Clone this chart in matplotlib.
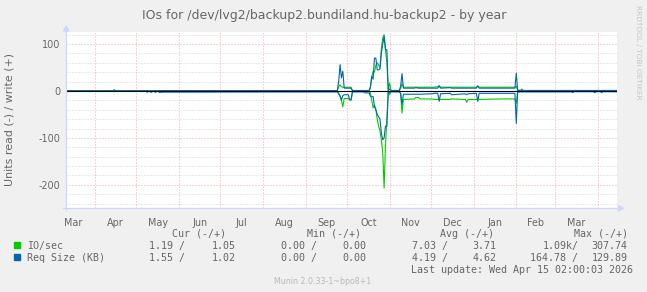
import datetime as dt
import numpy as np
import matplotlib
matplotlib.use("Agg")
import matplotlib.pyplot as plt
import matplotlib.dates as mdates
import matplotlib.transforms as mtransforms
from matplotlib.patches import Polygon, Rectangle
from matplotlib.lines import Line2D

# ---------------- data ----------------
title = "IOs for /dev/lvg2/backup2.bundiland.hu-backup2 - by year"
ylabel = "Units read (-) / write (+)"

dates = [
    "2025-03-11", "2025-04-14", "2025-04-15", "2025-04-16", "2025-05-08",
    "2025-05-09", "2025-05-10", "2025-05-12", "2025-05-13", "2025-05-15",
    "2025-05-16", "2025-05-18", "2025-05-20", "2025-09-24",
    "2025-09-25", "2025-09-26", "2025-09-27", "2025-09-28", "2025-09-29",
    "2025-10-02", "2025-10-03", "2025-10-04", "2025-10-05", "2025-10-13",
    "2025-10-14", "2025-10-17", "2025-10-18", "2025-10-19", "2025-10-20",
    "2025-10-21", "2025-10-22", "2025-10-23", "2025-10-24", "2025-10-25",
    "2025-10-26", "2025-10-27", "2025-10-28", "2025-10-29", "2025-10-30",
    "2025-10-31", "2025-11-01", "2025-11-02", "2025-11-08", "2025-11-09",
    "2025-11-10", "2025-11-11", "2025-11-12", "2025-11-19", "2025-11-20",
    "2025-11-22", "2025-11-23", "2025-12-02", "2025-12-03", "2025-12-06",
    "2025-12-07", "2025-12-08", "2025-12-15", "2025-12-16", "2025-12-26",
    "2025-12-27", "2025-12-28", "2026-01-03", "2026-01-04", "2026-01-05",
    "2026-01-20", "2026-01-31", "2026-02-01", "2026-02-02", "2026-02-04",
    "2026-02-05", "2026-02-06", "2026-03-13", "2026-03-14", "2026-03-15",
    "2026-03-29", "2026-03-30", "2026-03-31", "2026-04-03", "2026-04-04",
    "2026-04-05", "2026-04-15",
]
io_write = [
    0.1, 0.1, 3.0, 0.1, 0.2,
    0.2, 0.2, 0.2, 0.2, 0.2,
    0.2, 0.2, 0.3, 0.3,
    9, 13, 9, 8, 8,
    8, 8, 8, 0.5, 0.5,
    0.5, 0.5, 5, 30, 42,
    40, 55, 60, 55, 50,
    90, 113, 120, 88, 60,
    1, 17, 1, 1, 5,
    15, 8, 8, 8, 8,
    8, 8, 8, 8, 9,
    11, 8, 8, 8, 8,
    8, 8, 8, 10, 8,
    8, 8, 10, 2, 1,
    4, 1, 1, 1, 1,
    1, 1, 1, 1, 1,
    1, 1.05,
]
io_read = [
    0.1, 0.1, 0.1, 0.1, 0.2,
    0.2, 0.2, 0.2, 0.2, 0.2,
    0.2, 0.2, 0.3, 0.3,
    5, 12, 20, 34, 16,
    16, 19, 19, 1, 1,
    1, 1, 4, 20, 36,
    30, 40, 60, 75, 85,
    104, 132, 207, 115, 60,
    1, 8, 1, 1, 5,
    47, 18, 18, 17, 14,
    14, 17, 17, 18, 18,
    19, 18, 18, 17, 18,
    24, 18, 18, 19, 18,
    17, 17, 26, 2, 1,
    1, 1, 1, 1, 1,
    1, 1, 1, 1, 1,
    1, 1.19,
]
req_write = [
    0, 0, 0, 0, 0.2,
    0.5, 0.2, 0.5, 0.2, 0.5,
    0.2, 0.5, 0.8, 0.8,
    20, 56, 28, 42, 6,
    6, 6, 6, 1, 1,
    1, 1, 8, 31, 25,
    70, 70, 45, 45, 47,
    81, 100, 116, 88, 88,
    1, 4, 1, 1, 10,
    37, 6, 6, 6, 7,
    6, 6, 6, 6, 6,
    11, 6, 7, 6, 6,
    6, 6, 6, 11, 6,
    6, 6, 38, 1, 1,
    1, 1, 1, 1, 1,
    1, 1, 1, 1, 1,
    1, 1.02,
]
req_read = [
    0, 0, 0, 0, 0.2,
    3, 0.2, 3, 0.2, 3,
    0.2, 3, 2.5, 2,
    6, 10, 19, 10, 8,
    8, 19, 19, 2, 2,
    4, 4, 11, 12, 12,
    33, 40, 50, 55, 60,
    90, 104, 100, 75, 75,
    2, 3, 2, 2, 5,
    29, 7, 7, 7, 7,
    7, 7, 6, 5, 5,
    22, 6, 5, 8, 6,
    8, 6, 5, 22, 5,
    5, 5, 69, 2, 2,
    2, 2, 2, 3.5, 1.5,
    1.5, 3.5, 1.5, 1.5, 3.5,
    1.5, 1.55,
]

yticks = [100, 0, -100, -200]
ytick_labels = ["100", "0", "-100", "-200"]
month_labels = ["Mar", "Apr", "May", "Jun", "Jul", "Aug", "Sep", "Oct",
                "Nov", "Dec", "Jan", "Feb", "Mar"]

series_names = ["IO/sec", "Req Size (KB)"]
series_colors = ["#00CC00", "#0066B3"]
stat_headers = ["Cur (-/+)", "Min (-/+)", "Avg (-/+)", "Max (-/+)"]
io_read_stats = ["1.19", "0.00", "7.03", "1.09k"]
io_write_stats = ["1.05", "0.00", "3.71", "307.74"]
req_read_stats = ["1.55", "0.00", "4.19", "164.78"]
req_write_stats = ["1.02", "0.00", "4.62", "129.89"]
last_update = "Last update: Wed Apr 15 02:00:03 2026"
footer = "Munin 2.0.33-1~bpo8+1"
watermark = "RRDTOOL / TOBI OETIKER"

# ---------------- layout ----------------
W, H = 647, 292
FONT = "#666666"
fig = plt.figure(figsize=(W / 100, H / 100), dpi=100, facecolor="#F0F0F0")


def fx(x):
    return x / W


def fy(y):
    return 1 - y / H


L, R, T, B = 66.2, 616.9, 32.3, 208.3
ax = fig.add_axes([fx(L), fy(B), (R - L) / W, (B - T) / H])
ax.set_facecolor("white")
for s in ax.spines.values():
    s.set_visible(False)

end = dt.datetime(2026, 4, 15, 2, 0, 3)
start = end - dt.timedelta(days=400)
xs = [mdates.date2num(dt.datetime.strptime(d, "%Y-%m-%d")) for d in dates]
ax.set_xlim(mdates.date2num(start), mdates.date2num(end))
ax.set_ylim(-250, 125)
ax.set_xticks([])
ax.set_yticks([])

# grid
minor_c = "#d4d4d4"
major_c = "#f0a8a8"
dots = (0, (1, 2))
for v in range(-240, 125, 20):
    if v % 100 == 0:
        continue
    ax.axhline(v, color=minor_c, lw=0.72, ls=dots, zorder=0.5)
for v in yticks:
    if v != 0:
        ax.axhline(v, color=major_c, lw=0.72, ls=dots, zorder=0.6)

month_starts = []
y0, m0 = start.year, start.month
while True:
    d = dt.datetime(y0, m0, 1)
    if d > end:
        break
    month_starts.append(d)
    m0 += 1
    if m0 > 12:
        m0, y0 = 1, y0 + 1
for d in month_starts:
    if start < d < end:
        ax.axvline(mdates.date2num(d), color=major_c, lw=0.72, ls=dots, zorder=0.6)

# data
lw = 0.8
ax.plot(xs, io_write, color=series_colors[0], lw=lw, zorder=2)
ax.plot(xs, -np.array(io_read), color=series_colors[0], lw=lw, zorder=2)
ax.plot(xs, req_write, color=series_colors[1], lw=lw, zorder=3)
ax.plot(xs, -np.array(req_read), color=series_colors[1], lw=lw, zorder=3)
ax.axhline(0, color="black", lw=0.8, zorder=4)

# axes lines + arrows
axc = "#CFD6F8"
fig.add_artist(Line2D([fx(L), fx(L)], [fy(B + 2), fy(30)], color=axc, lw=0.9))
fig.add_artist(Line2D([fx(L - 3), fx(619)], [fy(B), fy(B)], color=axc, lw=0.9))
fig.add_artist(Polygon([[fx(L - 2.7), fy(31)], [fx(L + 2.7), fy(31)], [fx(L), fy(26.3)]],
                       closed=True, color=axc, transform=fig.transFigure))
fig.add_artist(Polygon([[fx(618.5), fy(B - 2.7)], [fx(618.5), fy(B + 2.7)], [fx(623.5), fy(B)]],
                       closed=True, color=axc, transform=fig.transFigure))

# tick labels
ty = mtransforms.blended_transform_factory(fig.transFigure, ax.transData)
for v, lab in zip(yticks, ytick_labels):
    fig.text(fx(60.5), v, lab, transform=ty, ha="right", va="center_baseline",
             fontsize=6.9, color=FONT, family="DejaVu Sans")

tx = mtransforms.blended_transform_factory(ax.transData, fig.transFigure)
for i, lab in enumerate(month_labels):
    a = month_starts[i]
    b = month_starts[i + 1] if i + 1 < len(month_starts) else end
    mid = mdates.date2num(a + (b - a) / 2)
    fig.text(mid, fy(226), lab, transform=tx, ha="center", va="baseline",
             fontsize=6.9, color=FONT, family="DejaVu Sans")

# title, labels
fig.text(fx(323.8), fy(18.7), title, ha="center", va="baseline", fontsize=9,
         color=FONT, family="DejaVu Sans")
fig.text(fx(10), fy(120), ylabel, rotation=90, ha="center", va="center",
         fontsize=7.9, color=FONT, family="DejaVu Sans")
fig.text(fx(638.3), fy(52), watermark, rotation=270, ha="center", va="center",
         fontsize=5.3, color="#c4c4c4", family="DejaVu Sans")

# legend
mono = "DejaVu Sans Mono"
lfs = 7.2
header_x = [172.3, 306.7, 440.0, 574.0]
for h, xx in zip(stat_headers, header_x):
    fig.text(fx(xx), fy(236.7), h, ha="left", va="baseline", fontsize=lfs,
             color=FONT, family=mono)

read_right = [185.0, 316.7, 447.7, 578.3]
write_right = [235.3, 366.7, 496.7, 627.7]
rows = [(io_read_stats, io_write_stats, 249.0, 242.3),
        (req_read_stats, req_write_stats, 261.0, 254.3)]
for k, (rs, ws, base, sq) in enumerate(rows):
    fig.add_artist(Rectangle((fx(14), fy(sq + 5.5)), 5.5 / W, 5.5 / H,
                             transform=fig.transFigure, color=series_colors[k]))
    fig.text(fx(26.7), fy(base), series_names[k], ha="left", va="baseline",
             fontsize=lfs, color=FONT, family=mono)
    for j in range(4):
        r = rs[j] + ("/" if rs[j].endswith("k") else " /")
        fig.text(fx(read_right[j]), fy(base), r, ha="right", va="baseline",
                 fontsize=lfs, color=FONT, family=mono)
        fig.text(fx(write_right[j]), fy(base), ws[j], ha="right", va="baseline",
                 fontsize=lfs, color=FONT, family=mono)

fig.text(fx(633.3), fy(272.7), last_update, ha="right", va="baseline",
         fontsize=lfs, color=FONT, family=mono)
fig.text(fx(322.8), fy(284), footer, ha="center", va="baseline",
         fontsize=5.7, color="#b8b8b8", family="DejaVu Sans")

fig.savefig("out.png", dpi=100, facecolor=fig.get_facecolor())
